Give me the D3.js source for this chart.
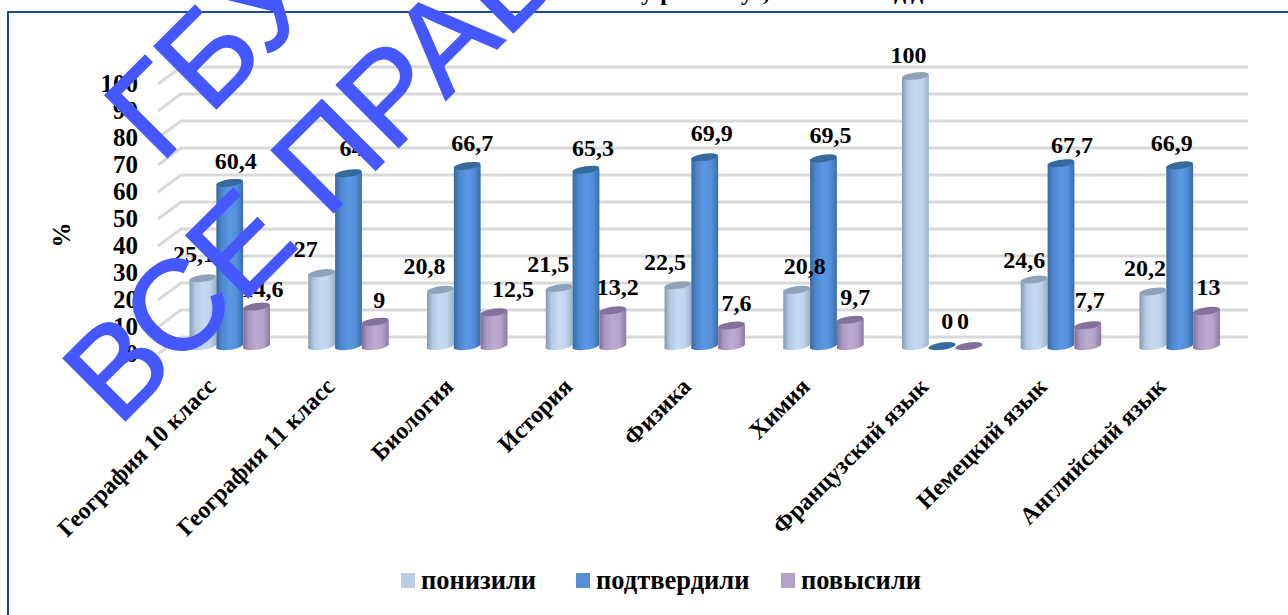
<!DOCTYPE html>
<html>
<head>
<meta charset="utf-8">
<script src="https://cdn.jsdelivr.net/npm/d3@7/dist/d3.min.js"></script>
<style>
	html, body { margin: 0; padding: 0; background: #fff; overflow: hidden; }
	svg { display: block; }
	text { font-family: "Liberation Serif", serif; font-weight: bold; fill: #000; }
	.axis path, .axis line { display: none; }
</style>
</head>
<body>
<script>
var categories = ["География 10 класс", "География 11 класс", "Биология", "История", "Физика", "Химия", "Французский язык", "Немецкий язык", "Английский язык"];
var seriesNames = ["понизили", "подтвердили", "повысили"];
var lowered = [25.1, 27, 20.8, 21.5, 22.5, 20.8, 100, 24.6, 20.2];
var confirmed = [60.4, 64, 66.7, 65.3, 69.9, 69.5, 0, 67.7, 66.9];
var raised = [14.6, 9, 12.5, 13.2, 7.6, 9.7, 0, 7.7, 13];
var yTicks = [0, 10, 20, 30, 40, 50, 60, 70, 80, 90, 100];
var values = [lowered, confirmed, raised];

// label offsets from the default spot above each bar, the original had them moved by hand
var labelShift = [
	[[-9, -7], [6, -5], [6, -1]],
	[[-16, -7], [3, -8], [4, -5]],
	[[-16, -7], [5, -6], [19, -6]],
	[[-11, -7], [7, -5], [5, -6]],
	[[-13, -6], [7, -7], [5, -5]],
	[[8, -7], [7, -6], [5, -6]],
	[[-7, -4], [5, -8], [-6, -8]],
	[[-10, -3], [11, -1], [2, -8]],
	[[-8, -6], [-8, -5], [2, -7]]
];

var width = 1288, height = 615;
var depth = {x: 23, y: 17};
var rx = 13.4, ry = 3.6, tilt = 2;

var colors = [
	{flat: "#b9cde5", top: "#8ea3ba", stops: ["#8297ae", "#b4c9e2", "#c6daf3", "#c0d4ed", "#9db1c9"]},
	{flat: "#558ed5", top: "#366a9f", stops: ["#38689b", "#4d87cf", "#5b97e3", "#5490da", "#3a6da5"]},
	{flat: "#b3a2c7", top: "#84719b", stops: ["#7f6c96", "#ab99c2", "#bcaad1", "#b5a3ca", "#8d7aa5"]}
];

var x = d3.scaleBand().domain(categories).range([170, 170 + 118.75 * categories.length]);
var xInner = d3.scaleBand().domain(seriesNames).range([19.5, 100]);
var y = d3.scaleLinear().domain([0, 100]).range([354, 84]);
var barBase = y(0) - 7;

function barTop(v) { return y(v) - 7; }

var svg = d3.select("body").append("svg")
	.attr("width", width)
	.attr("height", height);

var defs = svg.append("defs");
colors.forEach(function (c, i) {
	var g = defs.append("linearGradient").attr("id", "cyl" + i);
	c.stops.forEach(function (s, j) {
		g.append("stop").attr("offset", [0, 0.22, 0.5, 0.75, 1][j]).attr("stop-color", s);
	});
});

// frame, only the top and left edges are on the picture
svg.append("path")
	.attr("d", "M1288,12H8V615")
	.attr("fill", "none")
	.attr("stroke", "#1a4a9c")
	.attr("stroke-width", 2);

// title is cut off by the top of the picture, only descenders show
svg.append("g").selectAll("text")
	.data([["у", 647], ["р", 667], ["у", 747], [",", 766], ["д", 900], ["д", 917]])
	.enter().append("text")
	.attr("x", function (d) { return d[1]; })
	.attr("y", 0)
	.attr("text-anchor", "middle")
	.attr("font-size", 24)
	.text(function (d) { return d[0]; });

// back wall grid with the little stubs running to the front
var grid = svg.append("g").selectAll("path")
	.data(yTicks)
	.enter().append("path")
	.attr("d", function (d) {
		return "M158," + y(d) + "L181," + (y(d) - depth.y) + "H1248";
	})
	.attr("fill", "none")
	.attr("stroke", "#d9d9d9")
	.attr("stroke-width", 3);

svg.append("g")
	.attr("class", "axis")
	.attr("transform", "translate(148,-1)")
	.call(d3.axisLeft(y).tickValues(yTicks).tickSize(0).tickPadding(10))
	.selectAll("text")
	.attr("font-size", 25)
	.style("font-family", "'Liberation Serif', serif");

svg.append("g")
	.attr("class", "axis")
	.attr("transform", "translate(0,354)")
	.call(d3.axisBottom(x).tickSize(0))
	.selectAll("text")
	.attr("font-size", 24)
	.style("font-family", "'Liberation Serif', serif")
	.attr("text-anchor", "end")
	.attr("x", 0)
	.attr("y", 0)
	.attr("dy", "0.35em")
	.attr("transform", "translate(-18,28) rotate(-45)");

// cylinders
seriesNames.forEach(function (name, s) {
	var group = svg.append("g").attr("class", "series" + s);
	var cx = function (d, i) { return x(categories[i]) + xInner(name) + xInner.bandwidth() / 2; };

	group.selectAll("path")
		.data(values[s])
		.enter().append("path")
		.attr("d", function (d, i) {
			var c = cx(d, i), t = barTop(d);
			return "M" + (c - rx) + "," + t +
				"V" + barBase +
				"A" + rx + "," + ry + " -8 0 0 " + (c + rx) + "," + (barBase - tilt) +
				"V" + (t - tilt) + "Z";
		})
		.attr("fill", "url(#cyl" + s + ")");

	group.selectAll("ellipse")
		.data(values[s])
		.enter().append("ellipse")
		.attr("rx", rx)
		.attr("ry", ry)
		.attr("transform", function (d, i) {
			return "translate(" + cx(d, i) + "," + (barTop(d) - tilt / 2) + ") rotate(-8)";
		})
		.attr("fill", colors[s].top);
});

// value labels on top of all bars
seriesNames.forEach(function (name, s) {
	svg.append("g").selectAll("text")
		.data(values[s])
		.enter().append("text")
		.attr("x", function (d, i) {
			return x(categories[i]) + xInner(name) + xInner.bandwidth() / 2 + labelShift[i][s][0];
		})
		.attr("y", function (d, i) { return barTop(d) - 10 + labelShift[i][s][1]; })
		.attr("text-anchor", "middle")
		.attr("font-size", 24)
		.text(function (d) { return String(d).replace(".", ","); });
});

svg.append("text")
	.attr("transform", "translate(70,235) rotate(-90)")
	.attr("text-anchor", "middle")
	.attr("font-size", 25)
	.text("%");

// legend
var legendX = [401, 576, 781];
var legend = svg.append("g").selectAll("g")
	.data(seriesNames)
	.enter().append("g")
	.attr("transform", function (d, i) { return "translate(" + legendX[i] + ",573)"; });

legend.append("rect")
	.attr("width", 14)
	.attr("height", 15)
	.attr("fill", function (d, i) { return colors[i].flat; });

legend.append("text")
	.attr("x", 20)
	.attr("y", 16)
	.attr("font-size", 26.5)
	.text(function (d) { return d; });

// watermark over everything
svg.append("g").selectAll("text")
	.data([["ГБУ", 160, 165], ["ВСЕ ПРАВА", 118, 428]])
	.enter().append("text")
	.attr("transform", function (d) { return "translate(" + d[1] + "," + d[2] + ") rotate(-45)"; })
	.attr("font-size", 128)
	.style("font-family", "'Liberation Sans', sans-serif")
	.style("font-weight", "normal")
	.style("fill", "#4558ff")
	.style("stroke", "#4558ff")
	.style("stroke-width", 1.5)
	.text(function (d) { return d[0]; });
</script>
</body>
</html>
